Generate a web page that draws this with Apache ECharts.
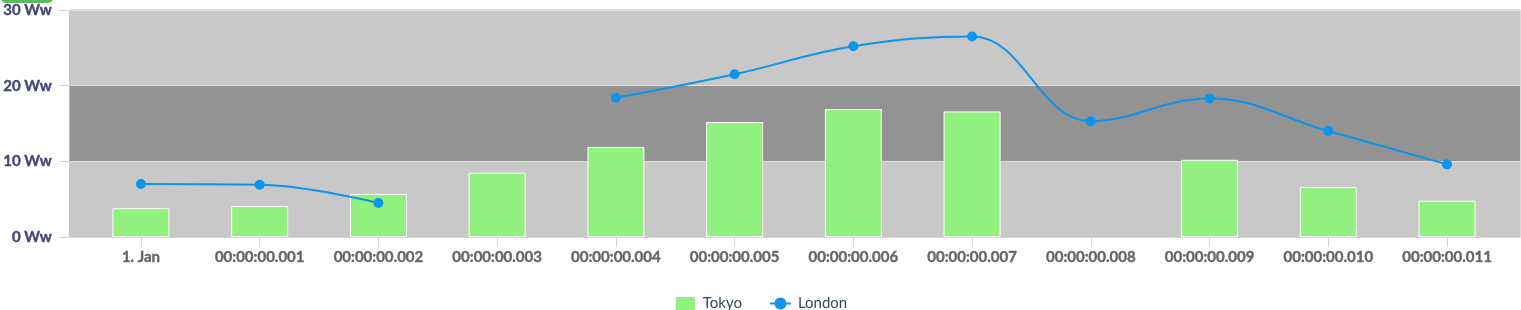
<!DOCTYPE html>
<html>
<head>
<meta charset="utf-8">
<script src="https://cdn.jsdelivr.net/npm/echarts@6/dist/echarts.min.js"></script>
<style>
html,body{margin:0;padding:0;background:#fff;}
#chart{width:1521px;height:310px;}
</style>
</head>
<body>
<div id="chart"></div>
<script>
const categories = ['1. Jan','00:00:00.001','00:00:00.002','00:00:00.003','00:00:00.004','00:00:00.005','00:00:00.006','00:00:00.007','00:00:00.008','00:00:00.009','00:00:00.010','00:00:00.011'];
const tokyo = [3.8, 4.1, 5.7, 8.5, 11.9, 15.2, 16.9, 16.6, null, 10.2, 6.6, 4.8];
const london = [7.0, 6.9, 4.5, null, 18.4, 21.5, 25.2, 26.5, 15.3, 18.3, 14.0, 9.6];
const yTicks = [0, 10, 20, 30];
const yUnit = ' Ww';

const chart = echarts.init(document.getElementById('chart'), null, {renderer: 'canvas'});
const FONT = 'Lato';
chart.setOption({
  animation: false,
  backgroundColor: '#ffffff',
  textStyle: {fontFamily: FONT},
  graphic: [{
    type: 'rect',
    shape: {x: 1, y: -8, width: 52, height: 11, r: 5},
    style: {fill: '#5cb85c'}
  }],
  legend: {
    top: 290,
    left: 'center',
    itemWidth: 21,
    itemHeight: 15,
    itemGap: 27,
    textStyle: {fontFamily: FONT, fontSize: 15, color: '#34495e', padding: [0, 0, 0, 2]},
    data: [{name: 'Tokyo', icon: 'rect'}, {name: 'London'}]
  },
  grid: [
    {left: 68, right: 1, top: 10, height: 227, show: true, borderColor: '#b8b8b8', borderWidth: 1, backgroundColor: '#c8c8c8'},
    {left: 81.6, right: 14.6, top: 10, height: 227}
  ],
  xAxis: [
    {gridIndex: 0, type: 'value', min: 0, max: 1,
     axisLine: {show: true, lineStyle: {color: '#ccd6eb', width: 1}},
     axisTick: {show: false}, axisLabel: {show: false}, splitLine: {show: false}},
    {gridIndex: 1, type: 'category', data: categories, boundaryGap: true,
     axisLine: {show: false},
     axisTick: {show: true, alignWithLabel: true, length: 10, lineStyle: {color: '#ccd6eb'}},
     axisLabel: {fontFamily: FONT, fontSize: 15, fontWeight: 700, color: '#666666', margin: 13, interval: 0,
                 textBorderColor: '#666666', textBorderWidth: 0.4}}
  ],
  yAxis: [
    {gridIndex: 0, type: 'value', min: yTicks[0], max: yTicks[yTicks.length-1], interval: 10,
     axisLine: {show: false},
     axisTick: {show: true, length: 11, lineStyle: {color: '#ccd6eb'}},
     axisLabel: {fontFamily: FONT, fontSize: 15, fontWeight: 700, color: '#46467a', margin: 18,
                 textBorderColor: '#46467a', textBorderWidth: 0.4,
                 formatter: v => v + yUnit},
     splitLine: {show: true, lineStyle: {color: '#dddddd', width: 1}},
     splitArea: {show: true, areaStyle: {color: ['#c8c8c8', '#939393']}}},
    {gridIndex: 1, type: 'value', min: yTicks[0], max: yTicks[yTicks.length-1], interval: 10,
     axisLine: {show: false}, axisTick: {show: false}, axisLabel: {show: false}, splitLine: {show: false}}
  ],
  series: [
    {name: 'Tokyo', type: 'bar', xAxisIndex: 1, yAxisIndex: 1, data: tokyo, barWidth: 57,
     itemStyle: {color: '#92f07e', borderColor: '#ffffff', borderWidth: 1}},
    {name: 'London', type: 'line', xAxisIndex: 1, yAxisIndex: 1, data: london, smooth: 0.4,
     connectNulls: false, symbol: 'circle', symbolSize: 10, z: 5,
     lineStyle: {color: '#0c95ea', width: 2}, itemStyle: {color: '#0c95ea'}}
  ]
});
</script>
</body>
</html>
